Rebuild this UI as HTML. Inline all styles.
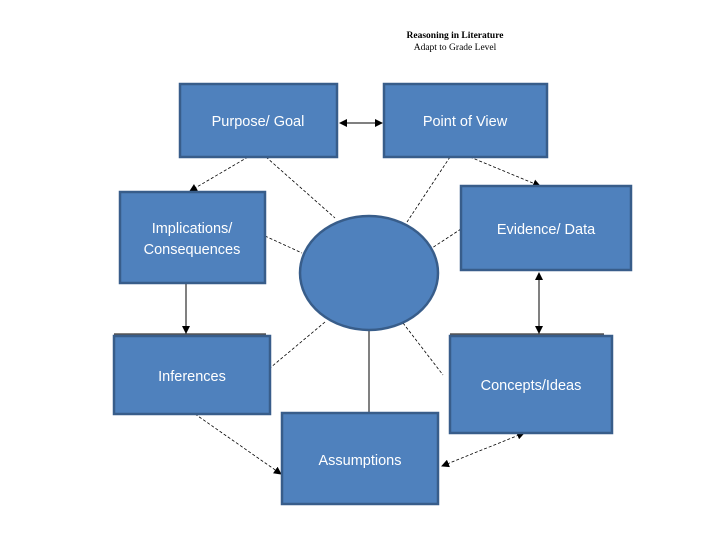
<!DOCTYPE html>
<html><head><meta charset="utf-8"><style>
body{margin:0;background:#fff;}
svg{display:block;}
.b{fill:#4f81bd;stroke:#385d8a;stroke-width:2.5;}
.t{font-family:"Liberation Sans",sans-serif;font-size:14.5px;fill:#fff;text-anchor:middle;}
.d{stroke:#000;stroke-width:0.8;stroke-dasharray:3,2;fill:none;}
.s{stroke:#000;stroke-width:1;fill:none;}
</style></head><body>
<svg width="720" height="540" viewBox="0 0 720 540">
<defs>
<marker id="a" markerWidth="8" markerHeight="8" refX="7" refY="4" orient="auto" markerUnits="userSpaceOnUse"><path d="M0,0 L8,4 L0,8 z" fill="#000"/></marker>
<marker id="r" markerWidth="8" markerHeight="8" refX="1" refY="4" orient="auto" markerUnits="userSpaceOnUse"><path d="M8,0 L0,4 L8,8 z" fill="#000"/></marker>
</defs>
<text x="455" y="38" font-family="Liberation Serif,serif" font-size="9.5" font-weight="bold" text-anchor="middle">Reasoning in Literature</text>
<text x="455" y="50" font-family="Liberation Serif,serif" font-size="9.5" text-anchor="middle">Adapt to Grade Level</text>

<line class="s" x1="340" y1="123" x2="382" y2="123" marker-start="url(#r)" marker-end="url(#a)"/>
<line class="d" x1="248" y1="157" x2="190" y2="191" marker-end="url(#a)"/>
<line class="d" x1="266" y1="157" x2="335" y2="218"/>
<line class="d" x1="450" y1="157" x2="407" y2="222"/>
<line class="d" x1="470" y1="157" x2="540" y2="186" marker-end="url(#a)"/>
<line class="d" x1="265" y1="236" x2="302" y2="253"/>
<line class="d" x1="461" y1="229" x2="432" y2="248"/>
<line class="s" x1="186" y1="283" x2="186" y2="333" marker-end="url(#a)"/>
<line class="s" x1="539" y1="273" x2="539" y2="333" marker-start="url(#r)" marker-end="url(#a)"/>
<line class="d" x1="325" y1="322" x2="270" y2="368"/>
<line class="d" x1="403" y1="323" x2="443" y2="375"/>
<line class="s" x1="369" y1="330" x2="369" y2="413"/>
<line class="d" x1="195" y1="414" x2="281" y2="474" marker-end="url(#a)"/>
<line class="d" x1="524" y1="433" x2="442" y2="466" marker-start="url(#r)" marker-end="url(#a)"/>
<line class="s" x1="114" y1="334" x2="266" y2="334"/>
<line class="s" x1="450" y1="334" x2="604" y2="334"/>

<rect class="b" x="180" y="84" width="157" height="73"/>
<text class="t" x="258" y="126">Purpose/ Goal</text>
<rect class="b" x="384" y="84" width="163" height="73"/>
<text class="t" x="465" y="126">Point of View</text>
<rect class="b" x="120" y="192" width="145" height="91"/>
<text class="t" x="192" y="233">Implications/</text>
<text class="t" x="192" y="254">Consequences</text>
<rect class="b" x="461" y="186" width="170" height="84"/>
<text class="t" x="546" y="234">Evidence/ Data</text>
<ellipse class="b" cx="369" cy="273" rx="69" ry="57"/>
<rect class="b" x="114" y="336" width="156" height="78"/>
<text class="t" x="192" y="381">Inferences</text>
<rect class="b" x="450" y="336" width="162" height="97"/>
<text class="t" x="531" y="390">Concepts/Ideas</text>
<rect class="b" x="282" y="413" width="156" height="91"/>
<text class="t" x="360" y="465">Assumptions</text>
</svg>
</body></html>
